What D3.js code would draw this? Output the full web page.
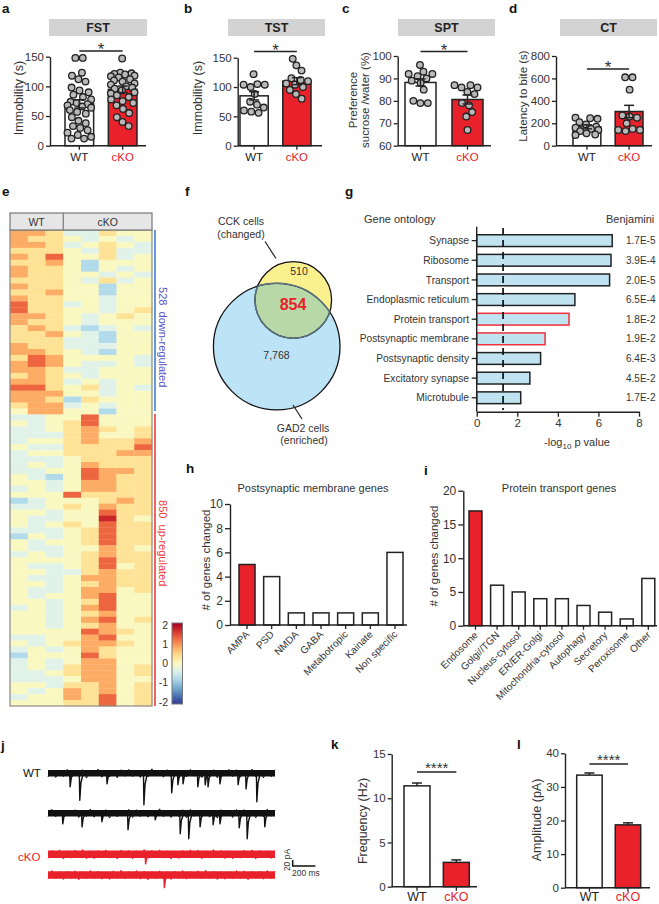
<!DOCTYPE html>
<html>
<head>
<meta charset="utf-8">
<script src="https://cdn.jsdelivr.net/npm/d3@7"></script>
<style>
  body { margin: 0; background: #fff; }
  svg text { font-family: "Liberation Sans", Arial, Helvetica, sans-serif; fill: #222; }
</style>
</head>
<body>
<svg id="fig" width="659" height="904"></svg>
<script>
// ---------- data ----------
const groups = ['WT', 'cKO'];

// a-d behaviour (individual animals, mean, sem)
const fstWT = [148,148,123,118,112,108,98,93,90,86,82,78,74,72,70,68,66,64,60,57,54,48,42,38,33,30,26,22,18,15,12,12];
const fstKO = [147,123,122,121,120,118,117,115,112,110,108,105,103,100,98,96,93,90,88,85,82,78,75,72,68,62,55,48,40,33];
const fstMean = [70.5, 95], fstSem = [7, 5.5];
const tstWT = [122,105,104,104,100,88,75,70,65,60,58,56];
const tstKO = [148,137,128,115,112,110,106,104,100,95,88,80];
const tstMean = [85, 110], tstSem = [7, 6];
const sptWT = [96,93,92,92,91,90,89,88,85,80,79,79];
const sptKO = [87,87,86,86,84,83,79,78,75,73,67];
const sptMean = [88.2, 80.6], sptSem = [1.6, 2];
const ctWT = [250,245,240,210,190,170,160,150,140,130,110,100,95];
const ctKO = [610,610,500,270,260,250,200,150,140,140,130];
const ctMean = [168, 305], ctSem = [18, 55];

// e heatmap: each character is a level code (0..8), levels give the z-score
const heatLevels = [-1.7, -1.2, -0.75, -0.35, 0, 0.35, 0.8, 1.25, 1.7];
const heatSamples = ['WT','WT','WT','cKO','cKO','cKO','cKO','cKO'];
const heatRows = [
  "66533544","65543434","66534543","55543533","65744534","55642444","65542434","65544343",
  "55543534","65544244","55644244","65544344","75534344","75544345","66543454","65543444",
  "56532343","55643244","55533244","65533344","66543244","57644443","67643343","66533444",
  "56543444","66534344","77545343","66644344","66525444","56634344","46644244","33447444",
  "43457444","33456545","33356445","34456556","43355557","34455566","33345555","34346555",
  "33447665","43247655","44346655","34346655","44475555","23444565","33454655","44344755",
  "43344854","43454755","33345755","24345755","43445755","43344654","34345655","44445755",
  "43345745","44335655","43346655","44345655","43346645","43446744","44345744","34346744",
  "44345644","44346745","44345644","44447654","33446744","43456654","34346544","24447544",
  "34346644","34356645","33456645","33346644","44355645","43465645","34465745","44455745"
];
const downCount = 528, upCount = 850;
const colorTicks = [2, 1, 0, -1, -2];

// f Venn
const vennValues = [510, 854, 7768];

// g gene ontology
const goTerms = ['Synapse','Ribosome','Transport','Endoplasmic reticulum','Protein transport',
  'Postsynaptic membrane','Postsynaptic density','Excitatory synapse','Microtubule'];
const goValues = [6.68, 6.62, 6.55, 4.84, 4.55, 3.37, 3.15, 2.62, 2.17];
const goBenjamini = ['1.7E-5','3.9E-4','2.0E-5','6.5E-4','1.8E-2','1.9E-2','6.4E-3','4.5E-2','1.7E-2'];
const goHighlight = ['Protein transport', 'Postsynaptic membrane'];
const goThreshold = 1.3;
const goTicks = [0, 2, 4, 6, 8];

// h, i gene counts
const pmCats = ['AMPA','PSD','NMDA','GABA','Metabotropic','Kainate','Non specific'];
const pmCounts = [5, 4, 1, 1, 1, 1, 6];
const ptCats = ['Endosome','Golgi//TGN','Nucleus-cytosol','ER/ER-Golgi','Mitochondria-cytosol',
  'Autophagy','Secretory','Peroxisome','Other'];
const ptCounts = [17, 6, 5, 4, 4, 3, 2, 1, 7];

// j traces: events [time ms, amplitude pA], baseline jitter (pA)
const wt1Events = [[195,45],[280,90],[520,35],[845,105],[1090,65],[1145,38],[1190,35],[1320,45],[1385,38],[1410,45],[1515,35],[1675,38],[1745,52],[1840,95]];
const wt2Events = [[130,35],[300,45],[475,28],[705,55],[945,22],[1165,68],[1240,85],[1340,45],[1455,38],[1515,35],[1685,48],[1755,85],[1910,45]];
const ko1Events = [[860,32]];
const ko2Events = [[1025,42]];
const wt1Noise = [12,-10,14,-9,11,-13,15,-8,10,-12,16,-11,9,-14,13,-10,12,-9,15,-12,10,-13,11,-9,14,-11,12,-15,9,-10,13,-12,11,-9,16,-10,12,-13,10,-11,14,-9,12,-12,15,-10,9,-13,11,-12,13,-9,10,-14,12,-11,15,-10,11,-12];
const wt2Noise = [10,-13,12,-9,15,-11,9,-12,14,-10,11,-14,13,-9,10,-12,16,-11,12,-10,9,-13,14,-12,11,-9,13,-11,10,-15,12,-10,14,-9,11,-12,15,-13,10,-11,12,-9,13,-10,16,-12,9,-11,14,-13,10,-12,11,-9,15,-10,12,-14,10,-11];
const ko1Noise = [14,-13,12,-15,16,-12,13,-14,11,-16,15,-12,14,-13,12,-15,13,-11,16,-14,12,-13,15,-12,11,-16,14,-13,12,-15,13,-12,16,-11,14,-13,12,-15,11,-14,15,-12,13,-16,12,-13,14,-12,15,-11,13,-14,12,-15,16,-13,11,-12,14,-13];
const ko2Noise = [13,-15,12,-12,15,-13,11,-14,16,-12,13,-15,12,-13,14,-11,15,-14,12,-16,13,-12,11,-15,14,-13,16,-12,12,-14,13,-11,15,-13,12,-15,14,-12,11,-14,13,-16,12,-13,15,-12,14,-11,13,-15,12,-14,16,-12,11,-13,14,-15,12,-13];

// k, l mEPSC summary
const freqMean = [11.4, 2.75], freqSem = [0.32, 0.28];
const ampMean = [33.5, 18.7], ampSem = [0.65, 0.6];

// ---------- drawing ----------
const RED = '#e8212a';
const INK = '#222';
const svg = d3.select('#fig');
svg.append('rect').attr('width', 659).attr('height', 904).attr('fill', '#fff');

function panelLabel(t, x, y) {
  svg.append('text').attr('x', x).attr('y', y).attr('font-size', 13.5)
    .attr('font-weight', 'bold').style('fill', '#111').text(t);
}

function rotLabel(g, lines, xs, cy, size) {
  lines.forEach((l, i) => {
    g.append('text').attr('transform', `translate(${xs[i]},${cy}) rotate(-90)`)
      .attr('text-anchor', 'middle').attr('font-size', size).style('fill', '#333').text(l);
  });
}

// shared bar panel (a-d, k, l)
function barPanel(o) {
  const g = svg.append('g');
  if (o.title) {
    g.append('rect').attr('x', o.box[0]).attr('y', 19).attr('width', o.box[1] - o.box[0])
      .attr('height', 17).attr('fill', '#d3d3d3');
    g.append('text').attr('x', (o.box[0] + o.box[1]) / 2).attr('y', 32)
      .attr('text-anchor', 'middle').attr('font-size', 12.5).attr('font-weight', 'bold').text(o.title);
  }
  const y = d3.scaleLinear().domain(o.domain).range([o.y0, o.yTop]);
  const x = d3.scaleBand().domain(groups).range(o.bars).paddingInner(0.34);

  g.selectAll('rect.bar').data(groups).join('rect').attr('class', 'bar')
    .attr('x', d => x(d)).attr('width', x.bandwidth())
    .attr('y', (d, i) => y(o.mean[i])).attr('height', (d, i) => y(o.domain[0]) - y(o.mean[i]))
    .attr('fill', d => d === 'WT' ? '#fff' : RED)
    .attr('stroke', INK).attr('stroke-width', 1.5);

  if (o.dots) {
    o.dots.forEach((vals, gi) => {
      const cx = x(groups[gi]) + x.bandwidth() / 2;
      const half = x.bandwidth() / 2 - 2.5;
      const nodes = vals.map((v, i) => ({ x: cx + (i % 3 - 1) * 4, y: y(v), fy: y(v) }));
      const sim = d3.forceSimulation(nodes)
        .force('x', d3.forceX(cx).strength(0.03))
        .force('c', d3.forceCollide(3.7)).stop();
      for (let k = 0; k < 220; k++) {
        sim.tick();
        nodes.forEach(n => { n.x = Math.max(cx - half, Math.min(cx + half, n.x)); });
      }
      g.selectAll(null).data(nodes).join('circle')
        .attr('cx', d => d.x).attr('cy', d => d.y).attr('r', 3.3)
        .attr('fill', '#b9b9b9').attr('stroke', INK).attr('stroke-width', 1.3);
    });
  }

  // error bars
  groups.forEach((gname, i) => {
    const cx = x(gname) + x.bandwidth() / 2;
    const hi = y(o.mean[i] + o.sem[i]);
    const lo = o.upOnly ? y(o.mean[i]) : y(o.mean[i] - o.sem[i]);
    g.append('line').attr('x1', cx).attr('x2', cx).attr('y1', lo).attr('y2', hi)
      .attr('stroke', INK).attr('stroke-width', 1.5);
    const caps = o.upOnly ? [hi] : [hi, lo];
    caps.forEach(cy => g.append('line').attr('x1', cx - 5).attr('x2', cx + 5)
      .attr('y1', cy).attr('y2', cy).attr('stroke', INK).attr('stroke-width', 1.5));
  });

  // y axis
  const ya = g.append('g').attr('transform', `translate(${o.axisX},0)`)
    .call(d3.axisLeft(y).tickValues(o.ticks).tickSize(4).tickSizeOuter(0).tickPadding(2));
  ya.select('.domain').attr('stroke', INK).attr('stroke-width', 1.4);
  ya.selectAll('.tick line').attr('stroke', INK).attr('stroke-width', 1.3);
  ya.selectAll('.tick text').attr('font-size', o.tickSize || 11.5).style('fill', '#333')
    .style('font-family', '"Liberation Sans", Arial, sans-serif');

  // x axis
  g.append('line').attr('x1', o.axisX).attr('x2', o.axisEnd).attr('y1', o.y0).attr('y2', o.y0)
    .attr('stroke', INK).attr('stroke-width', 1.4);
  groups.forEach(gname => {
    const cx = x(gname) + x.bandwidth() / 2;
    g.append('line').attr('x1', cx).attr('x2', cx).attr('y1', o.y0).attr('y2', o.y0 + 4)
      .attr('stroke', INK).attr('stroke-width', 1.3);
    g.append('text').attr('x', cx).attr('y', o.xlabY).attr('text-anchor', 'middle')
      .attr('font-size', o.xlabSize).style('fill', gname === 'WT' ? '#222' : RED).text(gname);
  });

  // significance
  const c0 = x('WT') + x.bandwidth() / 2, c1 = x('cKO') + x.bandwidth() / 2;
  g.append('line').attr('x1', c0).attr('x2', c1).attr('y1', o.sigY).attr('y2', o.sigY)
    .attr('stroke', INK).attr('stroke-width', 1.4);
  g.append('text').attr('x', (c0 + c1) / 2).attr('y', o.sigY + o.starDy).attr('text-anchor', 'middle')
    .attr('font-size', o.starSize).style('fill', '#333').text(o.star);

  rotLabel(g, o.ylab, o.ylabX, o.ylabY, o.ylabSize || 12.5);
}

const behaviourCommon = { y0: 145.7, xlabY: 161, xlabSize: 11.5, star: '*', starSize: 17, starDy: 4, tickSize: 11.5 };
barPanel(Object.assign({}, behaviourCommon, {
  title: 'FST', box: [49, 147], axisX: 50, axisEnd: 146, bars: [65, 137], domain: [0, 150], yTop: 56.7,
  ticks: [0, 50, 100, 150], dots: [fstWT, fstKO], mean: fstMean, sem: fstSem,
  ylab: ['Immobility (s)'], ylabX: [23], ylabY: 98, sigY: 51
}));
barPanel(Object.assign({}, behaviourCommon, {
  title: 'TST', box: [228, 325], axisX: 237.7, axisEnd: 322, bars: [240, 311], domain: [0, 150], yTop: 57.7,
  ticks: [0, 50, 100, 150], dots: [tstWT, tstKO], mean: tstMean, sem: tstSem,
  ylab: ['Immobility (s)'], ylabX: [202], ylabY: 98, sigY: 51.5
}));
barPanel(Object.assign({}, behaviourCommon, {
  title: 'SPT', box: [398, 495], axisX: 397.7, axisEnd: 491, bars: [405, 483], domain: [60, 100], yTop: 56,
  ticks: [60, 70, 80, 90, 100], dots: [sptWT, sptKO], mean: sptMean, sem: sptSem,
  ylab: ['Preference', 'sucrose /water (%)'], ylabX: [357, 369], ylabY: 100, ylabSize: 11.5, sigY: 51.5
}));
barPanel(Object.assign({}, behaviourCommon, {
  title: 'CT', box: [560, 657], axisX: 556, axisEnd: 652, bars: [573, 643], domain: [0, 800], yTop: 56,
  ticks: [0, 200, 400, 600, 800], dots: [ctWT, ctKO], mean: ctMean, sem: ctSem,
  ylab: ['Latency to bite (s)'], ylabX: [527], ylabY: 96, ylabSize: 11.5, sigY: 69
}));

panelLabel('a', 2, 13); panelLabel('b', 184, 13); panelLabel('c', 342, 13); panelLabel('d', 509, 13);

// ---------- e heatmap ----------
const heatColor = d3.scaleSequential(t => d3.interpolateRdYlBu(1 - t)).domain([-2, 2]);
const hx = d3.scaleBand().domain(d3.range(heatSamples.length)).range([10, 152]);
const hy = d3.scaleBand().domain(d3.range(heatRows.length)).range([230, 706]);
const heat = svg.append('g');
heatRows.forEach((row, r) => {
  heat.selectAll(null).data(row.split('')).join('rect')
    .attr('x', (d, c) => hx(c)).attr('y', hy(r))
    .attr('width', hx.bandwidth() + 0.3).attr('height', hy.bandwidth() + 0.3)
    .attr('fill', d => heatColor(heatLevels[+d]));
});
heat.append('rect').attr('x', 10).attr('y', 230).attr('width', 142).attr('height', 476)
  .attr('fill', 'none').attr('stroke', '#8a8a8a').attr('stroke-width', 1.2);
heat.append('rect').attr('x', 10).attr('y', 213).attr('width', 142).attr('height', 17)
  .attr('fill', '#e6e6e6').attr('stroke', '#777').attr('stroke-width', 1.2);
const wtEnd = hx(heatSamples.lastIndexOf('WT')) + hx.bandwidth();
heat.append('line').attr('x1', wtEnd).attr('x2', wtEnd).attr('y1', 213).attr('y2', 230)
  .attr('stroke', '#777').attr('stroke-width', 1.2);
heat.append('text').attr('x', (10 + wtEnd) / 2).attr('y', 225.5).attr('text-anchor', 'middle')
  .attr('font-size', 10.5).style('fill', '#333').text('WT');
heat.append('text').attr('x', (wtEnd + 152) / 2).attr('y', 225.5).attr('text-anchor', 'middle')
  .attr('font-size', 10.5).style('fill', '#333').text('cKO');

// up / down brackets
const geneY = d3.scaleLinear().domain([0, downCount + upCount]).range([230, 706]);
heat.append('line').attr('x1', 155).attr('x2', 155).attr('y1', geneY(0)).attr('y2', geneY(downCount) - 1.5)
  .attr('stroke', '#3b80d6').attr('stroke-width', 1.6);
heat.append('line').attr('x1', 155).attr('x2', 155).attr('y1', geneY(downCount) + 1.5).attr('y2', geneY(downCount + upCount))
  .attr('stroke', '#f03a3a').attr('stroke-width', 1.6);
heat.append('text').attr('transform', `translate(159,${(geneY(0) + geneY(downCount)) / 2 + 16}) rotate(90)`)
  .attr('text-anchor', 'middle').attr('font-size', 11).style('fill', '#5656c4')
  .attr('xml:space', 'preserve').text(downCount + '  down-regulated');
heat.append('text').attr('transform', `translate(159,${(geneY(downCount) + geneY(downCount + upCount)) / 2 - 16}) rotate(90)`)
  .attr('text-anchor', 'middle').attr('font-size', 11).style('fill', '#f03a3a')
  .attr('xml:space', 'preserve').text(upCount + '  up-regulated');

// colour bar
const defs = svg.append('defs');
const grad = defs.append('linearGradient').attr('id', 'cbar').attr('x1', 0).attr('x2', 0).attr('y1', 0).attr('y2', 1);
d3.range(0, 1.001, 0.1).forEach(t => grad.append('stop').attr('offset', t).attr('stop-color', heatColor(2 - 4 * t)));
const cy = d3.scaleLinear().domain([2, -2]).range([625, 702]);
svg.append('rect').attr('x', 172).attr('y', 623).attr('width', 10.5).attr('height', 81)
  .attr('fill', 'url(#cbar)').attr('stroke', '#777').attr('stroke-width', 1);
svg.selectAll(null).data(colorTicks).join('text')
  .attr('x', 168).attr('y', d => cy(d) + 3.6).attr('text-anchor', 'end').attr('font-size', 10.5)
  .style('fill', '#333').text(d => d);

panelLabel('e', 2, 196);

// ---------- f Venn ----------
const venn = svg.append('g');
const gad = { cx: 276.7, cy: 346.6, r: 63.3 }, cck = { cx: 293.3, cy: 300, r: 38.3 };
defs.append('clipPath').attr('id', 'gadclip').append('circle').attr('cx', gad.cx).attr('cy', gad.cy).attr('r', gad.r);
defs.append('clipPath').attr('id', 'cckclip').append('circle').attr('cx', cck.cx).attr('cy', cck.cy).attr('r', cck.r);
venn.append('circle').attr('cx', gad.cx).attr('cy', gad.cy).attr('r', gad.r).attr('fill', '#bde3f6');
venn.append('circle').attr('cx', cck.cx).attr('cy', cck.cy).attr('r', cck.r).attr('fill', '#fbf08e');
venn.append('circle').attr('cx', cck.cx).attr('cy', cck.cy).attr('r', cck.r).attr('fill', '#b8d8a8')
  .attr('clip-path', 'url(#gadclip)');
[gad, cck].forEach(c => venn.append('circle').attr('cx', c.cx).attr('cy', c.cy).attr('r', c.r)
  .attr('fill', 'none').attr('stroke', '#111').attr('stroke-width', 1.3));
venn.append('circle').attr('cx', cck.cx).attr('cy', cck.cy).attr('r', cck.r).attr('fill', 'none')
  .attr('stroke', '#5a7484').attr('stroke-width', 1.4).attr('clip-path', 'url(#gadclip)');
venn.append('circle').attr('cx', gad.cx).attr('cy', gad.cy).attr('r', gad.r).attr('fill', 'none')
  .attr('stroke', '#5a7484').attr('stroke-width', 1.4).attr('clip-path', 'url(#cckclip)');
const fmt = d3.format(',');
venn.append('text').attr('x', 299).attr('y', 275).attr('text-anchor', 'middle').attr('font-size', 10.5)
  .style('fill', '#333').text(vennValues[0]);
venn.append('text').attr('x', 293).attr('y', 310).attr('text-anchor', 'middle').attr('font-size', 16)
  .attr('font-weight', 'bold').style('fill', RED).text(vennValues[1]);
venn.append('text').attr('x', 276.5).attr('y', 359).attr('text-anchor', 'middle').attr('font-size', 10.5)
  .style('fill', '#333').text(fmt(vennValues[2]));
venn.append('text').attr('x', 241).attr('y', 225).attr('text-anchor', 'middle').attr('font-size', 10.5)
  .style('fill', '#333').text('CCK cells');
venn.append('text').attr('x', 241).attr('y', 237.5).attr('text-anchor', 'middle').attr('font-size', 10.5)
  .style('fill', '#333').text('(changed)');
venn.append('line').attr('x1', 265).attr('y1', 241.5).attr('x2', 276).attr('y2', 258.5).attr('stroke', '#222').attr('stroke-width', 1.2);
venn.append('line').attr('x1', 293).attr('y1', 405).attr('x2', 302).attr('y2', 419).attr('stroke', '#222').attr('stroke-width', 1.2);
venn.append('text').attr('x', 303).attr('y', 431.5).attr('text-anchor', 'middle').attr('font-size', 10.5)
  .style('fill', '#333').text('GAD2 cells');
venn.append('text').attr('x', 304).attr('y', 444).attr('text-anchor', 'middle').attr('font-size', 10.5)
  .style('fill', '#333').text('(enriched)');
panelLabel('f', 185, 196);

// ---------- g GO bars ----------
const go = svg.append('g');
const gx = d3.scaleLinear().domain([0, 8]).range([476.7, 639]);
const gy = d3.scaleBand().domain(goTerms).range([226.7, 411.7]).paddingInner(0.4).paddingOuter(0.41);
go.selectAll(null).data(goTerms).join('rect')
  .attr('x', gx(0)).attr('y', d => gy(d))
  .attr('width', (d, i) => gx(goValues[i]) - gx(0)).attr('height', gy.bandwidth())
  .attr('fill', '#bfe3f1')
  .attr('stroke', d => goHighlight.includes(d) ? '#f0303a' : INK).attr('stroke-width', 1.5);
go.append('line').attr('x1', gx(goThreshold)).attr('x2', gx(goThreshold)).attr('y1', 228).attr('y2', 410)
  .attr('stroke', '#111').attr('stroke-width', 1.7).attr('stroke-dasharray', '7,5');
go.append('line').attr('x1', gx(0)).attr('x2', gx(0)).attr('y1', 226.7).attr('y2', 411.7)
  .attr('stroke', INK).attr('stroke-width', 1.4);
goTerms.forEach((t, i) => {
  const c = gy(t) + gy.bandwidth() / 2;
  go.append('line').attr('x1', gx(0) - 5).attr('x2', gx(0)).attr('y1', c).attr('y2', c)
    .attr('stroke', INK).attr('stroke-width', 1.3);
  go.append('text').attr('x', 469).attr('y', c + 3.6).attr('text-anchor', 'end')
    .attr('font-size', 10.2).style('fill', '#333').text(t);
  go.append('text').attr('x', 626).attr('y', c + 3.6).attr('font-size', 10)
    .style('fill', '#333').text(goBenjamini[i]);
});
const gxa = go.append('g').attr('transform', 'translate(0,411.7)')
  .call(d3.axisBottom(gx).tickValues(goTicks).tickSize(5).tickSizeOuter(0).tickPadding(2));
gxa.select('.domain').attr('stroke', INK).attr('stroke-width', 1.4);
gxa.selectAll('.tick line').attr('stroke', INK).attr('stroke-width', 1.3);
gxa.selectAll('.tick text').attr('font-size', 11.5).style('fill', '#333')
  .style('font-family', '"Liberation Sans", Arial, sans-serif');
go.append('text').attr('x', 364).attr('y', 223).attr('font-size', 11).style('fill', '#333').text('Gene ontology');
go.append('text').attr('x', 606).attr('y', 223).attr('font-size', 11).style('fill', '#333').text('Benjamini');
const xt = go.append('text').attr('x', 577).attr('y', 446).attr('text-anchor', 'middle').attr('font-size', 11).style('fill', '#333');
xt.append('tspan').text('-log');
xt.append('tspan').attr('dy', 3).attr('font-size', 8).text('10');
xt.append('tspan').attr('dy', -3).text(' p value');
panelLabel('g', 345, 196);

// ---------- h, i count charts ----------
function countPanel(o) {
  const g = svg.append('g');
  const y = d3.scaleLinear().domain([0, o.max]).range([o.y0, o.yTop]);
  const x = d3.scaleBand().domain(o.cats).range(o.range).paddingInner(o.pi).paddingOuter(o.po);
  g.selectAll(null).data(o.cats).join('rect')
    .attr('x', d => x(d)).attr('width', x.bandwidth())
    .attr('y', (d, i) => y(o.counts[i])).attr('height', (d, i) => o.y0 - y(o.counts[i]))
    .attr('fill', d => d === o.highlight ? RED : '#fff').attr('stroke', INK).attr('stroke-width', 1.5);
  const ya = g.append('g').attr('transform', `translate(${o.range[0]},0)`)
    .call(d3.axisLeft(y).tickValues(o.ticks).tickSize(5).tickSizeOuter(0).tickPadding(2));
  ya.select('.domain').attr('stroke', INK).attr('stroke-width', 1.4);
  ya.selectAll('.tick line').attr('stroke', INK).attr('stroke-width', 1.3);
  ya.selectAll('.tick text').attr('font-size', 12).style('fill', '#333')
    .style('font-family', '"Liberation Sans", Arial, sans-serif');
  g.append('line').attr('x1', o.range[0]).attr('x2', o.axisEnd).attr('y1', o.y0).attr('y2', o.y0)
    .attr('stroke', INK).attr('stroke-width', 1.4);
  o.cats.forEach(c => {
    const cx = x(c) + x.bandwidth() / 2;
    g.append('line').attr('x1', cx).attr('x2', cx).attr('y1', o.y0).attr('y2', o.y0 + 4)
      .attr('stroke', INK).attr('stroke-width', 1.3);
    g.append('text').attr('transform', `translate(${cx + 3},${o.y0 + 10}) rotate(-45)`)
      .attr('text-anchor', 'end').attr('font-size', 10).style('fill', '#333').text(c);
  });
  g.append('text').attr('x', o.titleX).attr('y', o.titleY).attr('text-anchor', 'middle')
    .attr('font-size', 11).style('fill', '#333').text(o.title);
  rotLabel(g, ['# of genes changed'], [o.ylabX], o.ylabY, 11.5);
}
countPanel({ cats: pmCats, counts: pmCounts, highlight: 'AMPA', max: 10, ticks: [0, 2, 4, 6, 8, 10],
  range: [230, 412], pi: 0.35, po: 0.365, axisEnd: 407, y0: 625, yTop: 504,
  title: 'Postsynaptic membrane genes', titleX: 313, titleY: 492, ylabX: 210, ylabY: 560 });
countPanel({ cats: ptCats, counts: ptCounts, highlight: 'Endosome', max: 20, ticks: [0, 5, 10, 15, 20],
  range: [463.3, 660.5], pi: 0.4, po: 0.264, axisEnd: 657, y0: 625.7, yTop: 490.7,
  title: 'Protein transport genes', titleX: 559, titleY: 492, ylabX: 438, ylabY: 556 });
panelLabel('h', 186, 473); panelLabel('i', 424, 475);

// ---------- j traces ----------
const tx = d3.scaleLinear().domain([0, 2000]).range([48, 275]);
const amp = d3.scaleLinear().domain([0, 20]).range([0, 6]);
function trace(base, color, events, noise, core) {
  const g = svg.append('g');
  g.append('line').attr('x1', tx(0)).attr('x2', tx(2000)).attr('y1', base).attr('y2', base)
    .attr('stroke', color).attr('stroke-width', core);
  const step = 2000 / (noise.length - 1);
  g.append('path').attr('d', d3.line()(noise.map((n, i) => [tx(i * step), base + amp(n)])))
    .attr('fill', 'none').attr('stroke', color).attr('stroke-width', 1);
  events.forEach(([t, a]) => {
    g.append('path').attr('d', d3.line()([[tx(t - 4), base], [tx(t), base + amp(a)], [tx(t + 10), base + amp(a) * 0.35], [tx(t + 30), base]]))
      .attr('fill', 'none').attr('stroke', color).attr('stroke-width', 1.4).attr('stroke-linejoin', 'round');
  });
}
trace(773.3, '#111', wt1Events, wt1Noise, 6.5);
trace(813.3, '#111', wt2Events, wt2Noise, 6.5);
trace(854.3, RED, ko1Events, ko1Noise, 7.5);
trace(875, RED, ko2Events, ko2Noise, 7.5);
svg.append('text').attr('x', 23).attr('y', 777).attr('font-size', 11.5).style('fill', '#111').text('WT');
svg.append('text').attr('x', 18).attr('y', 861).attr('font-size', 11.5).style('fill', RED).text('cKO');
// scale bar
const sbx = 292.7, sby = 866;
svg.append('path').attr('d', d3.line()([[sbx, sby - amp(20)], [sbx, sby], [sbx + tx(200) - tx(0), sby]]))
  .attr('fill', 'none').attr('stroke', '#111').attr('stroke-width', 1.5);
svg.append('text').attr('transform', `translate(290,${sby - 6}) rotate(-90)`).attr('text-anchor', 'middle')
  .attr('font-size', 8.5).style('fill', '#333').text('20 pA');
svg.append('text').attr('x', 292).attr('y', 876).attr('font-size', 8.5).style('fill', '#333').text('200 ms');
panelLabel('j', 1, 750);

// ---------- k, l ----------
const summaryCommon = { xlabY: 901, xlabSize: 12.5, star: '****', starSize: 15, starDy: 1, upOnly: true, tickSize: 11.5, ylabSize: 12.5 };
barPanel(Object.assign({}, summaryCommon, {
  axisX: 391.7, axisEnd: 477, bars: [404, 469.3], domain: [0, 15], y0: 886.7, yTop: 754,
  ticks: [0, 5, 10, 15], mean: freqMean, sem: freqSem,
  ylab: ['Frequency (Hz)'], ylabX: [367], ylabY: 821, sigY: 772
}));
barPanel(Object.assign({}, summaryCommon, {
  axisX: 565, axisEnd: 650, bars: [576.7, 640.7], domain: [0, 40], y0: 887.7, yTop: 753.3,
  ticks: [0, 10, 20, 30, 40], mean: ampMean, sem: ampSem,
  ylab: ['Amplitude (pA)'], ylabX: [541], ylabY: 820, sigY: 764
}));
panelLabel('k', 331, 749); panelLabel('l', 517, 749);
</script>
</body>
</html>
